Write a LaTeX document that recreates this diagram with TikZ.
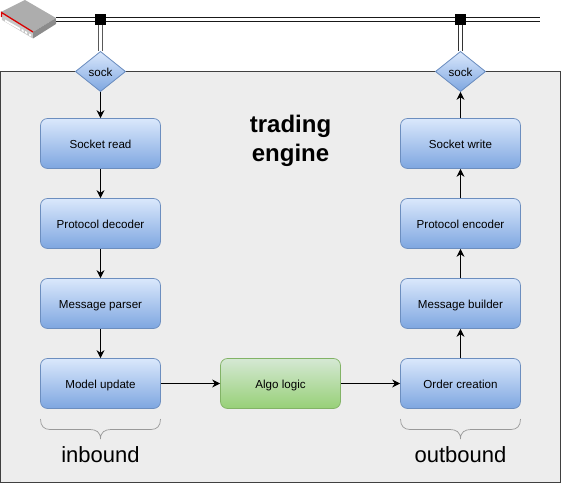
\documentclass[tikz,border=0pt]{standalone}
\usepackage{fontspec}
\setmainfont{Liberation Sans}
\usetikzlibrary{shapes.geometric,arrows.meta}
\definecolor{bluetop}{HTML}{DAE8FC}
\definecolor{bluebot}{HTML}{7EA6E0}
\definecolor{blueln}{HTML}{6C8EBF}
\definecolor{greentop}{HTML}{D5E8D4}
\definecolor{greenbot}{HTML}{97D077}
\definecolor{greenln}{HTML}{82B366}
\tikzset{
  x=1pt,y=-1pt,
  box/.style={draw=blueln,rounded corners=7pt,top color=bluetop,bottom color=bluebot,minimum width=120pt,minimum height=50pt,inner sep=0pt,text height=10pt,text depth=0pt,font=\fontsize{11.6pt}{14pt}\selectfont,line width=0.7pt},
  gbox/.style={box,draw=greenln,top color=greentop,bottom color=greenbot},
  sockd/.style={diamond,aspect=1.25,draw=blueln,top color=bluetop,bottom color=bluebot,minimum width=50pt,minimum height=40pt,inner sep=0pt,text height=9.5pt,text depth=0pt,font=\fontsize{11.6pt}{14pt}\selectfont,line width=0.7pt},
  conn/.style={-{Stealth[length=8pt,width=8pt]},line width=0.8pt},
  wire/.style={line width=1.2pt,black!90,double=white,double distance=2.8pt},
  lbl/.style={font=\fontsize{22pt}{26pt}\selectfont,inner sep=0pt},
  junction/.style={fill=black,minimum size=11pt,inner sep=0pt},
  brace/.style={draw=black!40,line width=0.7pt}
}
\begin{document}
\begin{tikzpicture}
\useasboundingbox (0,0) rectangle (562,489);
\draw[line width=1pt,draw=black!75,fill=black!7] (0.5,71.5) rectangle (560.5,482);
% device
\fill[black!22] (1,12) -- (33,32) -- (33,38.5) -- (2,20) -- cycle;
\fill[black!32] (1,12) -- (25,0) -- (56,18) -- (33,32) -- cycle;
\fill[black!45] (33,32) -- (56,18) -- (56,24) -- (33,38.5) -- cycle;
\draw[red!85!black,line width=1.3pt] (1.5,17) -- (1.5,12.5) -- (33,32);
\fill[white] (5,19.5) -- (20,28) -- (20,30) -- (5,21.5) -- cycle;
\fill[white] (21.5,29) -- (23.5,30) -- (23.5,32) -- (21.5,31) -- cycle;
\fill[white] (25,31) -- (27,32) -- (27,34) -- (25,33) -- cycle;
\fill[white] (29,33.5) -- (31,34.5) -- (31,36.5) -- (29,35.5) -- cycle;
% wires
\coordinate (devport) at (56,19.3);
\coordinate (wireend) at (540,19.3);
\node[junction] (j1) at (100.5,19.3) {};
\node[junction] (j2) at (460.5,19.3) {};
\node[sockd] (s1) at (100.5,71.5) {sock};
\node[sockd] (s2) at (460.5,71.5) {sock};
\draw[wire] (devport) -- (wireend);
\node[junction] at (j1) {};
\node[junction] at (j2) {};
\draw[wire,black!65] (j1.south) -- (s1.north);
\draw[wire,black!80] (j2.south) -- (s2.north);
\node[sockd] at (s1) {sock};
\node[sockd] at (s2) {sock};
% boxes
\node[box] (a1) at (100.5,143.5) {Socket read};
\node[box] (a2) at (100.5,223.5) {Protocol decoder};
\node[box] (a3) at (100.5,303.5) {Message parser};
\node[box] (a4) at (100.5,383.5) {Model update};
\node[gbox] (g) at (280.5,383.5) {Algo logic};
\node[box] (b4) at (460.5,383.5) {Order creation};
\node[box] (b3) at (460.5,303.5) {Message builder};
\node[box] (b2) at (460.5,223.5) {Protocol encoder};
\node[box] (b1) at (460.5,143.5) {Socket write};
\foreach \p/\q in {s1/a1,a1/a2,a2/a3,a3/a4,a4/g,g/b4,b4/b3,b3/b2,b2/b1,b1/s2}
  \draw[conn] (\p) -- (\q);
% braces
\draw[brace] (40.5,419) .. controls (40.5,426) and (44,429.5) .. (50,429.5) -- (90,429.5) .. controls (96,429.5) and (100.5,432) .. (100.5,439) .. controls (100.5,432) and (105,429.5) .. (111,429.5) -- (151,429.5) .. controls (157,429.5) and (160.5,426) .. (160.5,419);
\draw[brace] (400.5,419) .. controls (400.5,426) and (404,429.5) .. (410,429.5) -- (450,429.5) .. controls (456,429.5) and (460.5,432) .. (460.5,439) .. controls (460.5,432) and (465,429.5) .. (471,429.5) -- (511,429.5) .. controls (517,429.5) and (520.5,426) .. (520.5,419);
\node[lbl] (t1) at (100.5,455) {inbound};
\node[lbl] (t2) at (460.5,455) {outbound};
\node[font=\bfseries\fontsize{24pt}{29pt}\selectfont,align=center,inner sep=0pt] (title) at (290.5,141) {trading\\engine};
\end{tikzpicture}
\end{document}
